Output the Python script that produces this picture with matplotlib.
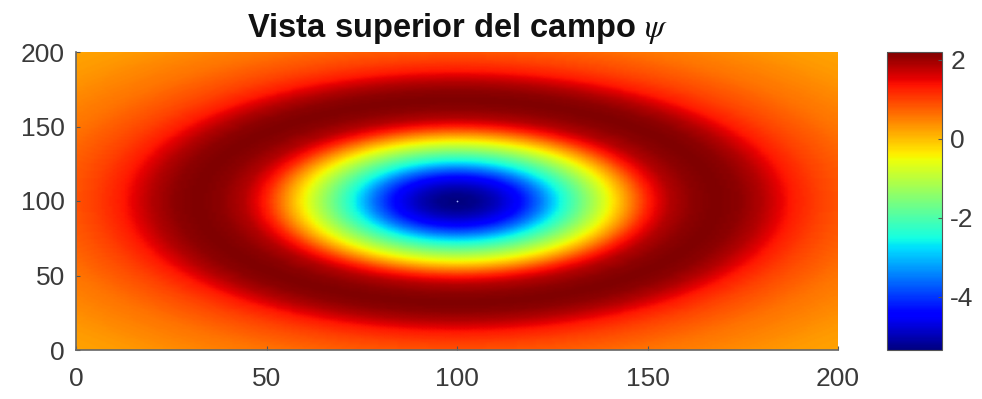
import numpy as np
import matplotlib
matplotlib.use('Agg')
import matplotlib.pyplot as plt

# radial profile of the field psi (distance from centre -> value)
radius = [0, 5, 10, 16, 22, 27, 33, 39, 44, 50, 56, 62, 68, 74, 80, 88, 95, 100, 110, 120, 130, 142]
psi_profile = [-5.35, -5.25, -4.95, -4.45, -3.5, -2.55, -1.6, -0.65, 0.2, 1.25, 1.85, 2.1, 2.2,
               2.1, 1.85, 1.3, 1.0, 0.85, 0.6, 0.45, 0.3, 0.2]
center = (100, 100)
grid_max = 200
x_ticks = [0, 50, 100, 150, 200]
y_ticks = [0, 50, 100, 150, 200]
cbar_ticks = [-4, -2, 0, 2]
vmin, vmax = -5.35, 2.2
title = 'Vista superior del campo $\\psi$'

plt.rcParams['font.family'] = ['Liberation Sans', 'DejaVu Sans']
plt.rcParams['mathtext.fontset'] = 'stix'
plt.rcParams['axes.unicode_minus'] = False

x = np.arange(grid_max + 1)
y = np.arange(grid_max + 1)
X, Y = np.meshgrid(x, y)
R = np.hypot(X - center[0], Y - center[1])
Z = np.interp(R, radius, psi_profile)

W, H = 982, 399
fig = plt.figure(figsize=(W / 100, H / 100), dpi=100)
ax = fig.add_axes([76 / W, 1 - 350 / H, (838 - 76) / W, (350 - 52) / H])
cax = fig.add_axes([887 / W, 1 - 350 / H, 55 / W, (350 - 52) / H])

im = ax.pcolormesh(X, Y, Z, cmap='jet', vmin=vmin, vmax=vmax, shading='gouraud', rasterized=True)
ax.plot(center[0], center[1], marker='.', ms=2.5, color='#a8b4ff', mec='none')
ax.set_xlim(0, grid_max)
ax.set_ylim(0, grid_max)
ax.set_xticks(x_ticks)
ax.set_yticks(y_ticks)
tick_color = '#3a3a3a'
ax.tick_params(axis='both', direction='in', length=3, color='#555555', labelsize=19, labelcolor=tick_color)
ax.tick_params(axis='x', pad=12)
ax.tick_params(axis='y', pad=8)
for s in ['top', 'right']:
    ax.spines[s].set_visible(False)
for s in ['left', 'bottom']:
    ax.spines[s].set_color('#666666')
    ax.spines[s].set_linewidth(1.2)

cb = fig.colorbar(im, cax=cax, ticks=cbar_ticks)
cb.outline.set_edgecolor('#555555')
cb.outline.set_linewidth(0.8)
cax.tick_params(direction='in', length=3, color='#555555', labelsize=19, labelcolor=tick_color, pad=6)

fig.text((76 + 838) / 2 / W, 1 - 29 / H, title, ha='center', va='center',
         fontsize=23.5, fontweight='bold', color='#111111')

fig.savefig('out.png', dpi=100)
